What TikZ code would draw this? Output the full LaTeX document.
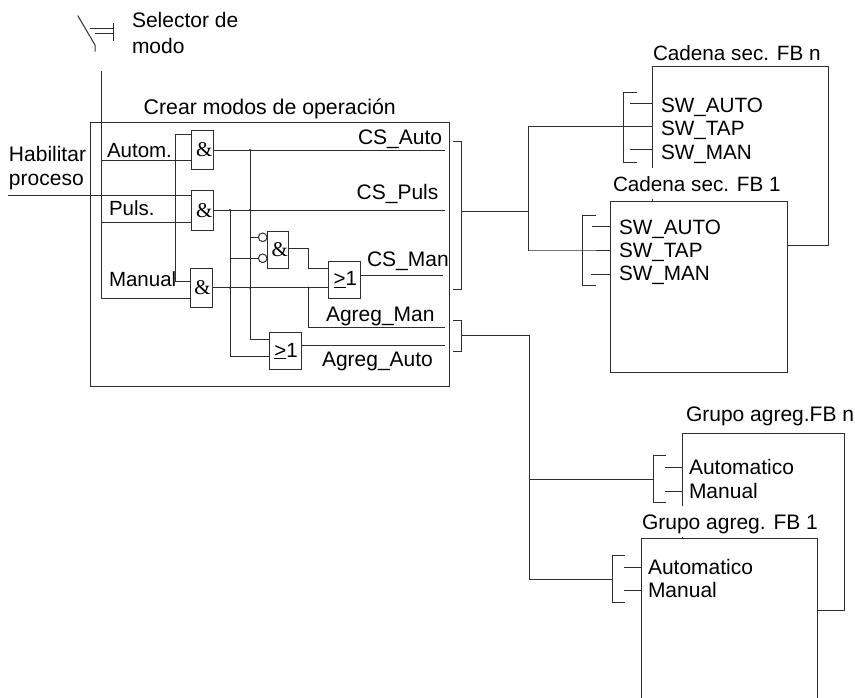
\documentclass[tikz,border=0pt]{standalone}
\usepackage{fontspec}
\setmainfont{Liberation Sans}
\newfontfamily\gateserif{Liberation Serif}
\tikzset{
  ln/.style={draw=linecol,line width=1pt,line cap=rect},
  lbl/.style={anchor=base west,inner sep=0pt,outer sep=0pt,font=\fontsize{21}{24}\selectfont,text=black},
  rlbl/.style={lbl,font=\fontsize{20.7}{24}\selectfont},
  masklbl/.style={lbl,fill=white,text depth=8pt,text height=23pt},
  gate/.style={draw=linecol,line width=1pt,fill=white,anchor=north west,inner sep=0pt,outer sep=0pt,font=\gateserif\fontsize{21}{24}\selectfont},
  orgate/.style={gate,font=\fontsize{20.5}{24}\selectfont},
  bigbox/.style={draw=linecol,line width=1pt,fill=white,anchor=north west,inner sep=0pt,outer sep=0pt},
  inv/.style={circle,draw=linecol,line width=1pt,fill=white,minimum size=8.6pt,inner sep=0pt,outer sep=0pt}
}
\definecolor{linecol}{HTML}{2E2E2E}
\begin{document}
\begin{tikzpicture}[x=1pt,y=-1pt]
\useasboundingbox (0,0) rectangle (855,697);
% ---------- main box
\node[bigbox,minimum width=358.5pt,minimum height=263.5pt] (main) at (90.5,122.5) {};
% ---------- gates
\node[gate,minimum width=21.5pt,minimum height=39pt] (and1) at (191.5,130.5) {\kern4pt\&};
\node[gate,minimum width=21.5pt,minimum height=39.3pt] (and2) at (191.5,190.7) {\kern4pt\&};
\node[gate,minimum width=21.5pt,minimum height=38.3pt] (and3) at (190.7,268.7) {\kern2pt\&};
\node[gate,minimum width=21pt,minimum height=37.7pt] (nand) at (267.3,231) {\kern4pt\&};
\node[orgate,minimum width=32pt,minimum height=37pt] (or1) at (328.3,261.3) {\kern2pt\underline{>}1};
\node[orgate,minimum width=31.7pt,minimum height=37.4pt] (or2) at (269.3,332.3) {\kern2pt\underline{>}1};
\node[inv] (i1) at (262.7,237.3) {};
\node[inv] (i2) at (262.7,258.3) {};
% ---------- coordinates
\coordinate (sw0) at (78,16); \coordinate (sw1) at (95,45); \coordinate (sw2) at (95,51);
\coordinate (sa) at (90,28); \coordinate (sb) at (113,28); \coordinate (sc) at (95,33); \coordinate (sd) at (113,33);
\coordinate (se) at (113,23); \coordinate (sf) at (113,40);
\coordinate (modeT) at (101,71); \coordinate (modeB) at (101,298);
\coordinate (a1i1) at (191.5,134); \coordinate (a1i2) at (191.5,160);
\coordinate (a2i1) at (191.5,195.7); \coordinate (a2i2) at (191.5,222.7);
\coordinate (a3i1) at (190.7,281); \coordinate (a3i2) at (190.7,298);
\coordinate (busT) at (175.7,134); \coordinate (busB) at (175.7,281);
\coordinate (hab) at (8,195.7);
\coordinate (m1) at (101,160); \coordinate (m2) at (101,222.7);
\coordinate (o1e) at (444,150); \coordinate (o1s) at (213,150);
\coordinate (o2e) at (444,210); \coordinate (o2s) at (213,210);
\coordinate (o3s) at (212.2,287.7); \coordinate (o3e) at (328.3,287.7);
\coordinate (v1T) at (230,210); \coordinate (v1B) at (230,356.7); \coordinate (v1R) at (269.3,356.7);
\coordinate (v2T) at (250,150); \coordinate (v2B) at (250,339); \coordinate (v2R) at (269.3,339);
\coordinate (j1) at (250,237.3); \coordinate (j2) at (230,258.3);
\coordinate (n1) at (288.3,248.3); \coordinate (n2) at (308.7,248.3); \coordinate (n3) at (308.7,268.7); \coordinate (n4) at (328.3,268.7);
\coordinate (or1o) at (360.3,275); \coordinate (or1e) at (442.7,275);
\coordinate (k1) at (308.7,287.7); \coordinate (k2) at (308.7,327.3); \coordinate (k3) at (444,327.3);
\coordinate (or2o) at (301,345.3); \coordinate (or2e) at (444,345.3);
\coordinate (j3) at (230,287.7); \coordinate (j4) at (250,287.7); \coordinate (j5) at (230,210); \coordinate (j6) at (250,210);
% ---------- selector
\draw[ln] (sw0) -- (sw1) -- (sw2);
\draw[ln] (sa) -- (sb); \draw[ln] (sc) -- (sd); \draw[ln] (se) -- (sf);
% ---------- wires
\draw[ln] (modeT) -- (modeB) -- (a3i2);
\draw[ln] (m1) -- (a1i2); \draw[ln] (m2) -- (a2i2);
\draw[ln] (hab) -- (a2i1);
\draw[ln] (a1i1) -- (busT) -- (busB) -- (a3i1);
\draw[ln] (o1s) -- (o1e);
\draw[ln] (o2s) -- (o2e);
\draw[ln] (o3s) -- (o3e);
\draw[ln] (v1T) -- (v1B) -- (v1R);
\draw[ln] (v2T) -- (v2B) -- (v2R);
\draw[ln] (j1) -- (i1.west); \draw[ln] (j2) -- (i2.west);
\draw[ln] (n1) -- (n2) -- (n3) -- (n4);
\draw[ln] (or1o) -- (or1e);
\draw[ln] (k1) -- (k2) -- (k3);
\draw[ln] (or2o) -- (or2e);
\foreach \p in {j3,j4,j5,j6,k1,v2T}{\fill[linecol] (\p) circle (1.2pt);}
% ---------- output brackets
\coordinate (b1a) at (453,141.7); \coordinate (b1b) at (461.5,141.7); \coordinate (b1c) at (461.5,289); \coordinate (b1d) at (453,289);
\coordinate (b1m) at (461.5,211.7); \coordinate (tr1) at (528.3,211.7); \coordinate (tr1T) at (528.3,126.7); \coordinate (tr1B) at (528.3,250);
\draw[ln] (b1a) -- (b1b) -- (b1c) -- (b1d);
\draw[ln] (b1m) -- (tr1);
\draw[ln] (tr1T) -- (tr1B);
\coordinate (b2a) at (453,320.7); \coordinate (b2b) at (461.5,320.7); \coordinate (b2c) at (461.5,351.7); \coordinate (b2d) at (453,351.7);
\coordinate (b2m) at (461.5,335.7); \coordinate (tr2) at (529.3,335.7); \coordinate (tr2M) at (529.3,479.3); \coordinate (tr2B) at (529.3,579);
\draw[ln] (b2a) -- (b2b) -- (b2c) -- (b2d);
\draw[ln] (b2m) -- (tr2) -- (tr2B);
% ---------- Cadena FB n
\node[bigbox,minimum width=176.3pt,minimum height=179.3pt] (fbn) at (652,66) {};
\node[rlbl] (tfbn) at (653,60) {Cadena sec. FB n};
\coordinate (cn1) at (630,103.3); \coordinate (cn1e) at (652,103.3);
\coordinate (cn2) at (623,126.7); \coordinate (cn2e) at (652,126.7);
\coordinate (cn3) at (630,149.3); \coordinate (cn3e) at (652,149.3);
\coordinate (cba) at (636,92.7); \coordinate (cbb) at (623,92.7); \coordinate (cbc) at (623,162.3); \coordinate (cbd) at (636,162.3);
\draw[ln] (tr1T) -- (cn2) -- (cn2e);
\draw[ln] (cn1) -- (cn1e); \draw[ln] (cn3) -- (cn3e);
\draw[ln] (cba) -- (cbb) -- (cbc) -- (cbd);
\node[rlbl] (swa) at (661,112) {SW\_AUTO};
\node[rlbl] (swt) at (661,135) {SW\_TAP};
\node[rlbl] (swm) at (661,159) {SW\_MAN};
% ---------- Cadena FB 1
\node[masklbl,rlbl,fill=white,text depth=8pt,text height=23pt] (tfb1) at (613,191) {Cadena sec. FB 1};
\node[bigbox,minimum width=177pt,minimum height=171pt] (fb1) at (610.3,201) {};
\coordinate (c1) at (592,226.7); \coordinate (c1e) at (610.3,226.7);
\coordinate (c2) at (582.3,250); \coordinate (c2e) at (610.3,250);
\coordinate (c3) at (591,274.3); \coordinate (c3e) at (610.3,274.3);
\coordinate (dba) at (595,215.7); \coordinate (dbb) at (582.3,215.7); \coordinate (dbc) at (582.3,285.7); \coordinate (dbd) at (595,285.7);
\draw[ln] (tr1B) -- (c2) -- (c2e);
\draw[ln] (c1) -- (c1e); \draw[ln] (c3) -- (c3e);
\draw[ln] (dba) -- (dbb) -- (dbc) -- (dbd);
\node[rlbl] (swa1) at (619,234) {SW\_AUTO};
\node[rlbl] (swt1) at (619,257) {SW\_TAP};
\node[rlbl] (swm1) at (619,280) {SW\_MAN};
% ---------- Grupo FB n
\node[bigbox,minimum width=162pt,minimum height=176.7pt] (gn) at (682.7,433.3) {};
\node[lbl] (tgn) at (686,421) {Grupo agreg.FB n};
\coordinate (g1) at (665,467); \coordinate (g1e) at (682.7,467);
\coordinate (g2) at (665,491); \coordinate (g2e) at (682.7,491);
\coordinate (gm) at (653.3,479.3);
\coordinate (gba) at (665,455.7); \coordinate (gbb) at (653.3,455.7); \coordinate (gbc) at (653.3,502.7); \coordinate (gbd) at (665,502.7);
\draw[ln] (tr2M) -- (gm);
\draw[ln] (g1) -- (g1e); \draw[ln] (g2) -- (g2e);
\draw[ln] (gba) -- (gbb) -- (gbc) -- (gbd);
\node[lbl] (ga) at (689,474) {Automatico};
\node[lbl] (gma) at (689,498) {Manual};
% ---------- Grupo FB 1
\node[masklbl] (tg1) at (642,529) {Grupo agreg. FB 1};
\node[bigbox,minimum width=176.3pt,minimum height=170pt] (g1b) at (641,538.7) {};
\coordinate (h1) at (624,567); \coordinate (h1e) at (641,567);
\coordinate (h2) at (624,590.7); \coordinate (h2e) at (641,590.7);
\coordinate (hm) at (612.3,579);
\coordinate (hba) at (624,555.7); \coordinate (hbb) at (612.3,555.7); \coordinate (hbc) at (612.3,602.3); \coordinate (hbd) at (624,602.3);
\draw[ln] (tr2B) -- (hm);
\draw[ln] (h1) -- (h1e); \draw[ln] (h2) -- (h2e);
\draw[ln] (hba) -- (hbb) -- (hbc) -- (hbd);
\node[lbl] (ha) at (648,574) {Automatico};
\node[lbl] (hma) at (648,597) {Manual};
% ---------- left labels
\node[lbl] (ts1) at (132,27) {Selector de};
\node[lbl] (ts2) at (132,53) {modo};
\node[lbl,font=\fontsize{21.3}{24}\selectfont] (tc) at (143.7,114) {Crear modos de operación};
\node[lbl] (th1) at (9,161) {Habilitar};
\node[lbl] (th2) at (9,185) {proceso};
\node[lbl,font=\fontsize{20.5}{24}\selectfont] (tau) at (107,157) {Autom.};
\node[lbl,font=\fontsize{20.5}{24}\selectfont] (tpu) at (109,215) {Puls.};
\node[lbl,font=\fontsize{20.5}{24}\selectfont] (tma) at (109,286) {Manual};
\node[lbl] (tca) at (358,144) {CS\_Auto};
\node[lbl] (tcp) at (356.7,199.7) {CS\_Puls};
\node[lbl] (tcm) at (367,266) {CS\_Man};
\node[lbl] (tam) at (326,321) {Agreg\_Man};
\node[lbl] (taa) at (322,366) {Agreg\_Auto};
\end{tikzpicture}
\end{document}
